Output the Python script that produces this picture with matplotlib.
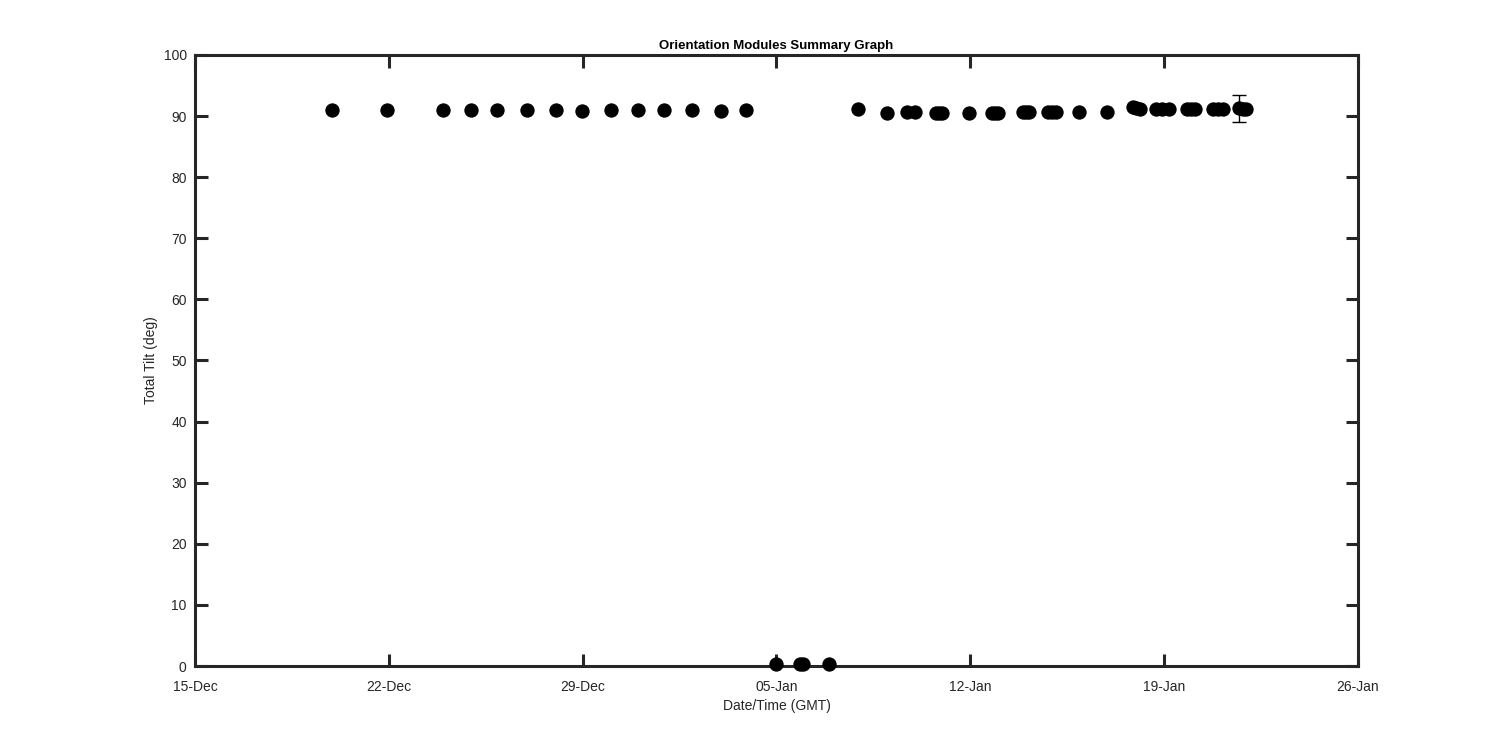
import numpy as np
import pandas as pd
import matplotlib
matplotlib.use("Agg")
import matplotlib.pyplot as plt
import matplotlib.dates as mdates

plt.rcParams['font.family'] = ['Liberation Sans', 'DejaVu Sans']

# sample times (GMT) and total tilt readings
times = [
    '2015-12-19 23:00', '2015-12-21 22:00', '2015-12-23 23:15', '2015-12-24 23:15',
    '2015-12-25 22:00', '2015-12-26 23:30', '2015-12-28 00:45', '2015-12-28 23:45',
    '2015-12-30 00:30', '2015-12-30 23:45', '2015-12-31 22:45', '2016-01-01 23:00',
    '2016-01-02 23:30', '2016-01-03 22:00',
    '2016-01-04 23:15', '2016-01-05 20:00', '2016-01-05 23:15', '2016-01-06 21:50',
    '2016-01-07 22:20', '2016-01-08 23:30', '2016-01-09 16:50', '2016-01-10 00:00',
    '2016-01-10 18:15', '2016-01-10 21:00', '2016-01-10 23:30', '2016-01-11 23:00',
    '2016-01-12 18:45', '2016-01-12 21:30', '2016-01-13 00:00',
    '2016-01-13 21:35', '2016-01-14 00:10', '2016-01-14 02:50',
    '2016-01-14 19:40', '2016-01-14 22:50', '2016-01-15 02:00',
    '2016-01-15 22:30', '2016-01-16 22:20',
    '2016-01-17 20:50', '2016-01-17 23:30', '2016-01-18 03:10',
    '2016-01-18 17:15', '2016-01-18 22:05', '2016-01-19 03:50',
    '2016-01-19 19:25', '2016-01-19 23:20', '2016-01-20 03:10',
    '2016-01-20 18:00', '2016-01-20 22:20', '2016-01-21 02:40',
    '2016-01-21 17:15', '2016-01-21 20:00', '2016-01-21 22:35',
]
tilt = [
    91.0, 91.0, 91.0, 91.0,
    91.0, 91.0, 91.0, 90.9,
    91.0, 91.0, 91.0, 91.0,
    90.9, 91.0,
    0.3, 0.3, 0.3, 0.3,
    91.1, 90.5, 90.6, 90.6,
    90.5, 90.5, 90.5, 90.5,
    90.5, 90.5, 90.5,
    90.6, 90.6, 90.6,
    90.65, 90.65, 90.65,
    90.6, 90.6,
    91.5, 91.35, 91.2,
    91.1, 91.1, 91.1,
    91.1, 91.1, 91.1,
    91.1, 91.1, 91.1,
    91.25, 91.1, 91.1,
]
tilt_err = [0.0] * (len(tilt) - 3) + [2.15, 0.0, 0.0]

t = pd.to_datetime(times)

fig = plt.figure(figsize=(15, 7.5), dpi=100)
ax = fig.add_axes([0.13, 0.112, 0.7753, 0.8147])

ax.plot(t, tilt, 'o', color='black', markersize=9.5, markeredgewidth=0.8,
        clip_on=False, zorder=3)
has_err = np.array(tilt_err) > 0
ax.errorbar(t[has_err], np.array(tilt)[has_err], yerr=np.array(tilt_err)[has_err],
            fmt='none', ecolor='black', elinewidth=1, capsize=4.7, capthick=1, zorder=2)

ax.set_xlim(pd.Timestamp('2015-12-15'), pd.Timestamp('2016-01-26'))
ax.set_ylim(0, 100)
ax.set_yticks(np.arange(0, 101, 10))
ax.set_xticks(pd.date_range('2015-12-15', '2016-01-26', freq='7D'))
ax.xaxis.set_major_formatter(mdates.DateFormatter('%d-%b'))

for s in ax.spines.values():
    s.set_linewidth(2.2)
    s.set_color('#262626')
ax.tick_params(direction='in', length=9, width=2.2, color='#262626',
               labelcolor='#262626', labelsize=10, top=True, right=True, pad=6)
ax.tick_params(axis='x', pad=10)

ax.set_title('Orientation Modules Summary Graph', fontsize=9.5, fontweight='bold', pad=4)
ax.set_xlabel('Date/Time (GMT)', fontsize=10, color='#262626', labelpad=4)
ax.set_ylabel('Total Tilt (deg)', fontsize=10, color='#262626', labelpad=4)

fig.savefig('out.png', dpi=100)
